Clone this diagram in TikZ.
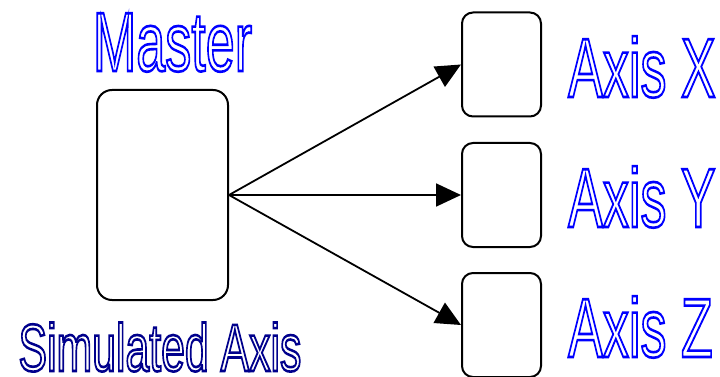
\documentclass[tikz,border=0pt]{standalone}
\usepackage{fontspec}
\setmainfont{Liberation Sans}
\usepackage{xcolor}
\usetikzlibrary{arrows.meta, positioning}

\definecolor{labelblue}{RGB}{0,0,255}
\definecolor{navyblue}{RGB}{0,0,140}

% hollow letters: stroke the glyphs, no fill
\newcommand{\hollow}[1]{\special{pdf:literal direct 1 Tr 2.6 w}#1\special{pdf:literal direct 0 Tr}}

\tikzset{
    masterbox/.style={draw, line width=2pt, rounded corners=15pt, minimum width=131pt, minimum height=210pt},
    axisbox/.style={draw, line width=2pt, rounded corners=11pt, minimum width=79pt, minimum height=104pt},
    feed/.style={line width=1.8pt, -{Triangle[length=25pt, width=23pt]}},
    tag/.style={inner sep=0pt, xscale=0.62, text=labelblue, font=\fontsize{84}{84}\selectfont}
}

\begin{document}
\begin{tikzpicture}[x=1pt, y=-1pt]
    \useasboundingbox (0,0) rectangle (720,377);

    % Boxes
    \node[masterbox] (master) at (162.5,195) {};
    \node[axisbox] (axisx) at (501.5,64.5) {};
    \node[axisbox] (axisy) at (501.5,195) {};
    \node[axisbox] (axisz) at (501.5,325) {};

    % Arrows from master to the axes
    \draw[feed] (master.east) -- (axisx.west);
    \draw[feed] (master.east) -- (axisy.west);
    \draw[feed] (master.east) -- (axisz.west);

    % Labels
    \node[tag, anchor=base] (mastertext) at (172.5,71) {\hollow{Master}};
    \node[tag, anchor=base, text=navyblue, xscale=1.03, font=\fontsize{67}{67}\selectfont] (simtext) at (160,371) {\hollow{Simulated Axis}};
    \node[tag, anchor=base west] (xtext) at (568,97) {\hollow{Axis X}};
    \node[tag, anchor=base west] (ytext) at (568,227) {\hollow{Axis Y}};
    \node[tag, anchor=base west] (ztext) at (568,357) {\hollow{Axis Z}};
\end{tikzpicture}
\end{document}
